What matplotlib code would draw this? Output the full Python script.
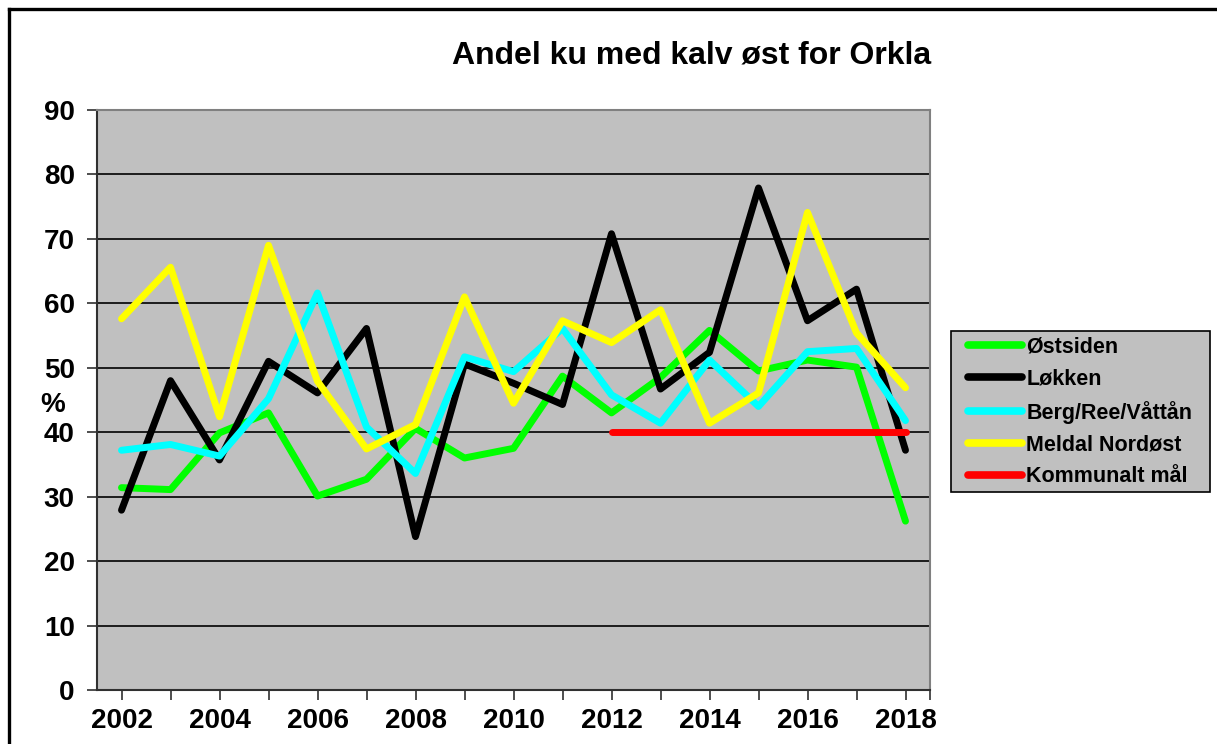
import numpy as np
import matplotlib
matplotlib.use("Agg")
import matplotlib.pyplot as plt
from matplotlib.lines import Line2D
from matplotlib.patches import Rectangle

years = list(range(2002, 2019))

ostsiden = [31.4, 31.1, 39.9, 43.0, 30.1, 32.7, 40.6, 36.0, 37.5, 48.7,
            43.0, 48.5, 55.8, 49.5, 51.2, 50.1, 26.2]
lokken = [27.9, 48.0, 35.7, 51.0, 46.1, 56.1, 23.8, 50.6, 47.6, 44.3,
          70.8, 46.7, 52.4, 77.9, 57.3, 62.2, 37.2]
berg = [37.2, 38.1, 36.3, 45.2, 61.6, 40.8, 33.6, 51.7, 49.4, 56.1,
        45.8, 41.4, 51.2, 44.0, 52.5, 53.0, 41.8]
meldal = [57.6, 65.6, 42.4, 69.0, 47.9, 37.4, 41.2, 61.0, 44.5, 57.3,
          53.9, 59.0, 41.4, 46.1, 74.1, 55.4, 46.9]
maal_years = list(range(2012, 2019))
maal = [40] * len(maal_years)

series = [
    ("Østsiden", ostsiden, "#00ff00"),
    ("Løkken", lokken, "#000000"),
    ("Berg/Ree/Våttån", berg, "#00ffff"),
    ("Meldal Nordøst", meldal, "#ffff00"),
]

plt.rcParams['font.family'] = ['Liberation Sans', 'DejaVu Sans']
plt.rcParams['font.weight'] = 'bold'

W, H = 1217, 744
fig = plt.figure(figsize=(W / 100, H / 100), dpi=100)
ax = fig.add_axes([97 / W, 1 - 690 / H, (930 - 97) / W, (690 - 110) / H])
ax.set_facecolor("#c0c0c0")

for name, vals, col in series:
    ax.plot(years, vals, color=col, lw=5, label=name,
            solid_joinstyle='round', solid_capstyle='round', zorder=3)
ax.plot(maal_years, maal, color="#ff0000", lw=5, label="Kommunalt mål",
        solid_capstyle='round', zorder=3)

ax.set_xlim(2001.5, 2018.5)
ax.set_ylim(0, 90)
ax.set_yticks(range(0, 91, 10))
ax.yaxis.grid(True, color="black", lw=1.2)
ax.set_axisbelow(True)

xt = years + [2018.5]
ax.set_xticks(xt)
ax.set_xticklabels([str(y) if y % 2 == 0 else "" for y in years] + [""])
ax.tick_params(axis='x', length=7, width=1.2, color='#303030', pad=6,
               labelsize=20)
ax.tick_params(axis='y', length=7, width=1.2, color='#303030', pad=9,
               labelsize=20)
for lab in ax.get_xticklabels() + ax.get_yticklabels():
    lab.set_fontweight('bold')

for s in ['left', 'bottom']:
    ax.spines[s].set_color('#303030')
    ax.spines[s].set_linewidth(1.5)
for s in ['top', 'right']:
    ax.spines[s].set_color('#808080')
    ax.spines[s].set_linewidth(1.5)

fig.text(53 / W, 1 - 405 / H, "%", fontsize=20, fontweight='bold',
         ha='center', va='center')

fig.text(692 / W, 1 - 56 / H, "Andel ku med kalv øst for Orkla",
         fontsize=23, fontweight='bold', ha='center', va='center')

# legend box drawn separately (behind the axes' children) so the padding matches
fig.add_artist(Rectangle((951 / W, 1 - 492 / H), (1210 - 951) / W,
                         (492 - 331) / H, transform=fig.transFigure,
                         facecolor="#c0c0c0", edgecolor="black", lw=1.2,
                         zorder=-1))
leg = ax.legend(loc='upper left', bbox_to_anchor=(968 / W, 1 - 337 / H),
                bbox_transform=fig.transFigure, borderaxespad=0,
                handlelength=2.5, handletextpad=0.2,
                labelspacing=0.5, borderpad=0, frameon=False,
                prop={'weight': 'bold', 'size': 15.5})
for h in leg.get_lines():
    h.set_linewidth(5.5)

# outer frame (runs off the right and bottom edges)
fig.add_artist(Line2D([9 / W, 9 / W], [-0.05, 1 - 9 / H],
                      transform=fig.transFigure, color='black', lw=2.4))
fig.add_artist(Line2D([9 / W, 1.05], [1 - 9 / H, 1 - 9 / H],
                      transform=fig.transFigure, color='black', lw=2.4))

fig.savefig("out.png", dpi=100)
